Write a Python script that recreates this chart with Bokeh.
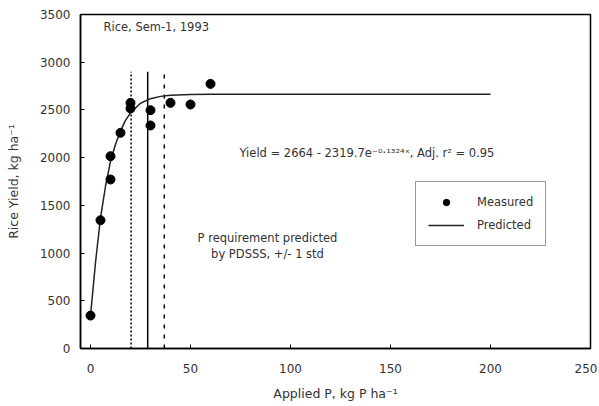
from bokeh.plotting import figure
from bokeh.models import Range1d, FixedTicker, Legend, LegendItem, Label
from bokeh.embed import file_html
from bokeh.resources import INLINE

p_applied = [0, 5, 10, 10, 15, 20, 20, 30, 30, 40, 50, 60]
yield_measured = [345, 1344, 1771, 2015, 2260, 2574, 2515, 2497, 2337, 2574, 2557, 2773]

# Predicted curve
p_curve = [0, 2.5, 5, 7.5, 10, 12.5, 15, 17.5, 20, 25, 30, 35, 40, 50, 60, 80, 120, 160, 200]
yield_curve = [344, 900, 1370, 1700, 1960, 2140, 2280, 2390, 2470, 2570, 2618, 2642, 2654, 2661, 2663, 2664, 2664, 2664, 2664]

# P requirement predicted by PDSSS, +/- 1 std
p_req_low = 20.3
p_req_mean = 28.6
p_req_high = 36.9
req_line_bottom = 0
req_line_top = 2900

x_ticks = [0, 50, 100, 150, 200, 250]
y_ticks = [0, 500, 1000, 1500, 2000, 2500, 3000, 3500]

FONT = "DejaVu Sans"
TXT = "#333333"

p = figure(width=597, height=404, output_backend="svg", toolbar_location=None,
           x_range=Range1d(-5, 250), y_range=Range1d(0, 3500),
           min_border_left=80, min_border_right=7, min_border_top=14, min_border_bottom=56)
p.grid.visible = False
p.outline_line_color = "black"
p.outline_line_width = 1.5
p.background_fill_color = "white"
p.border_fill_color = "white"

for ax in (p.xaxis[0], p.yaxis[0]):
    ax.axis_line_width = 1.5
    ax.axis_line_color = "black"
    ax.major_tick_in = 4
    ax.major_tick_out = 0
    ax.minor_tick_line_color = None
    ax.major_label_text_font = FONT
    ax.major_label_text_font_size = "12px"
    ax.major_label_text_color = TXT
    ax.axis_label_text_font = FONT
    ax.axis_label_text_font_size = "12.5px"
    ax.axis_label_text_font_style = "normal"
    ax.axis_label_text_color = TXT

p.xaxis.ticker = FixedTicker(ticks=x_ticks)
p.yaxis.ticker = FixedTicker(ticks=y_ticks)
p.xaxis.major_label_standoff = 15
p.yaxis.major_label_standoff = 10
p.xaxis.axis_label = "Applied P, kg P ha\u207b\u00b9"
p.yaxis.axis_label = "Rice Yield, kg ha\u207b\u00b9"
p.xaxis.axis_label_standoff = 10
p.yaxis.axis_label_standoff = 16

# requirement lines
p.segment(x0=[p_req_low], y0=[req_line_bottom], x1=[p_req_low], y1=[req_line_top],
          line_color="black", line_width=1.5, line_dash="2 2")
p.segment(x0=[p_req_mean], y0=[req_line_bottom], x1=[p_req_mean], y1=[req_line_top],
          line_color="black", line_width=1.5)
p.segment(x0=[p_req_high], y0=[req_line_bottom], x1=[p_req_high], y1=[req_line_top],
          line_color="black", line_width=1.5, line_dash="4 6")

r_line = p.line(p_curve, yield_curve, line_color="#222222", line_width=1.5)
r_pts = p.scatter(p_applied, yield_measured, marker="circle", size=9,
                  fill_color="black", line_color="black")

legend = Legend(items=[LegendItem(label="Measured", renderers=[r_pts]),
                       LegendItem(label="Predicted", renderers=[r_line])],
                location=(335, 102), orientation="vertical",
                border_line_color="#333333", border_line_width=1.5,
                background_fill_alpha=1.0,
                label_text_font=FONT, label_text_font_size="11.5px",
                label_text_color=TXT, glyph_width=36, glyph_height=16,
                label_height=16, spacing=7, padding=12, margin=0,
                label_standoff=13)
p.add_layout(legend, "center")

def add_label(x, y, text, align="left"):
    p.add_layout(Label(x=x, y=y, text=text, text_font=FONT, text_font_size="11.5px",
                       text_color=TXT, text_align=align, text_baseline="middle"))

add_label(6.5, 3369, "Rice, Sem-1, 1993")
add_label(74.5, 2051, "Yield = 2664 - 2319.7e\u207b\u2070\u00b7\u00b9\u00b3\u00b2\u2074\u02e3, Adj. r\u00b2 = 0.95")
add_label(88.5, 1161, "P requirement predicted", align="center")
add_label(88.5, 994, "by PDSSS, +/- 1 std", align="center")

open("out.html", "w").write(file_html(p, INLINE))
